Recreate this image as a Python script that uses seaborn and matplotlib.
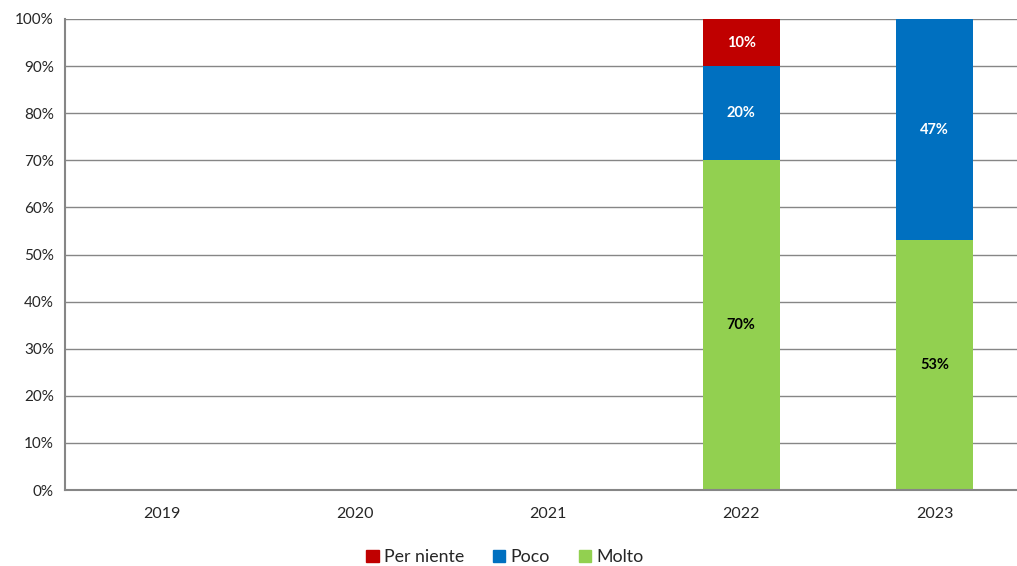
import numpy as np
import pandas as pd
import matplotlib
matplotlib.use('Agg')
import matplotlib.pyplot as plt
from matplotlib.patches import Patch
import seaborn as sns

# Data (percent)
years = ['2019', '2020', '2021', '2022', '2023']
molto = [np.nan, np.nan, np.nan, 70, 53]
poco = [np.nan, np.nan, np.nan, 20, 47]
per_niente = [np.nan, np.nan, np.nan, 10, 0]

colors = {'Molto': '#92D050', 'Poco': '#0070C0', 'Per niente': '#C00000'}
label_colors = {'Molto': 'black', 'Poco': 'white', 'Per niente': 'white'}

sns.set_style('white')
plt.rcParams['font.family'] = ['Lato', 'DejaVu Sans']

df = pd.DataFrame({'Anno': years, 'Molto': molto, 'Poco': poco, 'Per niente': per_niente})
df['cum_molto'] = df['Molto']
df['cum_poco'] = df['Molto'] + df['Poco']
df['cum_tot'] = df['cum_poco'] + df['Per niente']

fig = plt.figure(figsize=(10.17, 5.66), dpi=100)
ax = fig.add_axes([65 / 1017, 76 / 566, 966 / 1017, 471 / 566])

grid_col = '#868686'
for v in range(10, 101, 10):
    ax.axhline(v, color=grid_col, lw=1.0, zorder=0)

# stacked bars drawn tallest first
for col, name, z in [('cum_tot', 'Per niente', 2), ('cum_poco', 'Poco', 3), ('cum_molto', 'Molto', 4)]:
    sns.barplot(data=df, x='Anno', y=col, color=colors[name], width=0.4,
                saturation=1, linewidth=0, ax=ax, zorder=z)

# segment labels
for i in range(len(years)):
    bottom = 0
    for name in ['Molto', 'Poco', 'Per niente']:
        val = df[name].iloc[i]
        if pd.notna(val) and val > 0:
            ax.text(i, bottom + val / 2, f'{val:.0f}%', ha='center', va='center',
                    fontsize=10.5, fontweight='bold', color=label_colors[name], zorder=6)
            bottom += val

ax.set_ylim(0, 100)
ax.set_xlim(-0.5, 4.5)
ax.set_yticks(range(0, 101, 10))
ax.set_yticklabels([f'{v}%' for v in range(0, 101, 10)], fontsize=11)
ax.set_xticks(range(len(years)))
ax.set_xticklabels(years, fontsize=11.5)
ax.set_xticks(np.arange(-0.5, 5, 1), minor=True)
ax.tick_params(axis='x', which='major', length=0, pad=12)
ax.tick_params(axis='x', which='minor', length=5, width=1.2, color=grid_col)
ax.tick_params(axis='y', length=5, width=1.2, color=grid_col, pad=3)
ax.set_xlabel('')
ax.set_ylabel('')

for s in ['top', 'right']:
    ax.spines[s].set_visible(False)
for s in ['left', 'bottom']:
    ax.spines[s].set_color(grid_col)
    ax.spines[s].set_linewidth(1.5)
    ax.spines[s].set_zorder(5)

handles = [Patch(color=colors[n], label=n) for n in ['Per niente', 'Poco', 'Molto']]
fig.legend(handles=handles, loc='center', bbox_to_anchor=(505 / 1017, 1 - 557 / 566),
           ncol=3, frameon=False, fontsize=12.8, handlelength=0.7, handleheight=0.7,
           handletextpad=0.3, columnspacing=1.6)

fig.savefig('out.png', dpi=100)
